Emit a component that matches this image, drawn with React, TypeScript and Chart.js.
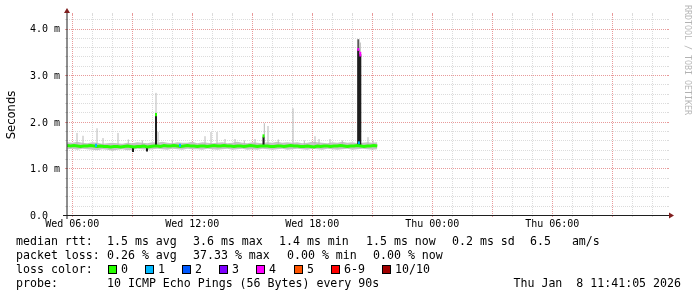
import React, { useEffect, useRef } from "react";
import { Chart, registerables } from "chart.js";
Chart.register(...registerables);

// ---------- data (hours since Wed 00:00, values in ms) ----------
const xTickHours = [6, 12, 18, 24, 30];
const xTickLabels = ["Wed 06:00", "Wed 12:00", "Wed 18:00", "Thu 00:00", "Thu 06:00"];
const yTickValues = [0, 1, 2, 3, 4];
const yTickLabels = ["0.0", "1.0 m", "2.0 m", "3.0 m", "4.0 m"];

const medianStart = 5.75;
const medianStepH = 1 / 6;
const medianValues = [
  1.49, 1.48, 1.49, 1.48, 1.47, 1.48, 1.48, 1.49, 1.48, 1.47,
  1.48, 1.47, 1.47, 1.46, 1.47, 1.47, 1.46, 1.47, 1.48, 1.47,
  1.46, 1.47, 1.47, 1.48, 1.46, 1.47, 1.48, 1.48, 1.47, 1.49,
  1.48, 1.48, 1.49, 1.48, 1.47, 1.48, 1.49, 1.48, 1.48, 1.47,
  1.48, 1.48, 1.47, 1.48, 1.49, 1.48, 1.48, 1.49, 1.48, 1.48,
  1.47, 1.48, 1.48, 1.47, 1.48, 1.49, 1.48, 1.47, 1.48, 1.48,
  1.48, 1.47, 1.47, 1.48, 1.48, 1.47, 1.48, 1.49, 1.48, 1.48,
  1.47, 1.47, 1.48, 1.47, 1.46, 1.48, 1.47, 1.48, 1.48, 1.47,
  1.48, 1.48, 1.49, 1.48, 1.47, 1.48, 1.48, 1.49, 1.48, 1.47,
  1.48, 1.48, 1.49, 1.48,
];

const smokeStart = 5.75;
const smokeStepH = 0.25;
const smokeHi = [
  1.56, 1.55, 1.57, 1.55, 1.54, 1.56, 1.55, 1.53, 1.54, 1.55,
  1.54, 1.53, 1.55, 1.54, 1.56, 1.55, 1.54, 1.56, 1.55, 1.57,
  1.55, 1.54, 1.56, 1.55, 1.55, 1.57, 1.54, 1.56, 1.55, 1.54,
  1.55, 1.56, 1.54, 1.55, 1.57, 1.55, 1.54, 1.56, 1.55, 1.54,
  1.56, 1.55, 1.57, 1.55, 1.56, 1.55, 1.56, 1.54, 1.55, 1.57,
  1.56, 1.55, 1.54, 1.56, 1.55, 1.57, 1.55, 1.56, 1.54, 1.55,
  1.56, 1.55, 1.56,
];
const smokeLo = [
  1.41, 1.42, 1.40, 1.42, 1.41, 1.40, 1.39, 1.41, 1.40, 1.38,
  1.40, 1.41, 1.39, 1.40, 1.42, 1.41, 1.40, 1.41, 1.42, 1.41,
  1.40, 1.42, 1.41, 1.40, 1.42, 1.41, 1.41, 1.40, 1.42, 1.41,
  1.40, 1.41, 1.42, 1.40, 1.41, 1.42, 1.40, 1.41, 1.40, 1.42,
  1.41, 1.40, 1.41, 1.42, 1.40, 1.41, 1.42, 1.41, 1.40, 1.42,
  1.41, 1.40, 1.42, 1.41, 1.40, 1.41, 1.42, 1.40, 1.41, 1.42,
  1.41, 1.40, 1.41,
];

// light smoke spikes (base at the smoke band)
const spikeBase = 1.5;
const graySpikeTimes = [
  6.235, 6.535, 7.235, 7.535, 8.285, 8.8, 9.5, 10.185, 10.285, 11.0,
  12.635, 12.935, 13.235, 13.635, 14.135, 14.6, 15.135, 15.6, 15.785, 16.3,
  17.035, 17.6, 18.135, 18.335, 18.885, 19.5, 20.40, 20.785, 21.035,
];
const graySpikeTops = [
  1.76, 1.70, 1.86, 1.65, 1.76, 1.62, 1.60, 2.62, 1.78, 1.60,
  1.69, 1.78, 1.78, 1.63, 1.63, 1.60, 1.63, 1.97, 1.91, 1.62,
  2.29, 1.60, 1.69, 1.63, 1.63, 1.60, 3.70, 1.67, 1.60,
];
// dense (dark) smoke spike
const darkSmokeTimes = [20.30];
const darkSmokeTops = [3.77];

// dark (black) bars of concentrated pings
const darkBarTimes = [9.035, 9.735, 10.185, 15.56, 20.30, 20.40];
const darkBarLo = [1.35, 1.36, 1.47, 1.47, 1.47, 1.47];
const darkBarHi = [1.46, 1.46, 2.14, 1.68, 3.55, 3.45];

// median marks coloured by packet loss count
const lossMarkTimes = [7.185, 10.185, 11.385, 15.56, 20.30, 20.33, 20.40];
const lossMarkLo = [1.46, 2.12, 1.46, 1.66, 3.52, 1.52, 3.40];
const lossMarkHi = [1.53, 2.19, 1.53, 1.73, 3.58, 1.58, 3.50];
const lossMarkCount = [1, 0, 1, 0, 4, 1, 4];

const lossLegendLabels = ["0", "1", "2", "3", "4", "5", "6-9", "10/10"];
const lossLegendColors = ["#26ff00", "#00b8ff", "#0059ff", "#7e00ff", "#ff00ff", "#ff5500", "#ff0000", "#a10000"];
const lossCountColor: Record<number, string> = { 0: "#26ff00", 1: "#00b8ff", 2: "#0059ff", 3: "#7e00ff", 4: "#ff00ff", 5: "#ff5500" };

const legendRow1 = ["median rtt:", "1.5 ms avg", "3.6 ms max", "1.4 ms min", "1.5 ms now", "0.2 ms sd", "6.5   am/s"];
const legendRow2 = ["packet loss:", "0.26 % avg", "37.33 % max", "0.00 % min", "0.00 % now"];
const legendRow3Title = "loss color:";
const probeTitle = "probe:";
const probeText = "10 ICMP Echo Pings (56 Bytes) every 90s";
const dateText = "Thu Jan  8 11:41:05 2026";
const yAxisTitle = "Seconds";
const watermark = "RRDTOOL / TOBI OETIKER";

// ---------- layout ----------
const X_MIN = 5.735;
const X_MAX = 35.735;
const Y_MAX = 4.29;
const MONO = "'DejaVu Sans Mono', 'Liberation Mono', monospace";
const row1X = [16, 107, 193, 279, 366, 452, 530];
const row2X = [16, 107, 193, 287, 373];
const swatchX = [108, 145, 182, 219, 256, 294, 331, 382];
const MINOR = "#dcdcdc";
const MAJOR = "#e89a9a";

function segs(times: number[], lo: number[] | number, hi: number[]) {
  const pts: { x: number; y: number | null }[] = [];
  times.forEach((t, i) => {
    pts.push({ x: t, y: typeof lo === "number" ? lo : lo[i] });
    pts.push({ x: t, y: hi[i] });
    pts.push({ x: t, y: null });
  });
  return pts;
}

const rrdPlugin = {
  id: "rrd",
  beforeDatasetsDraw(chart: any) {
    const { ctx, chartArea: a, scales } = chart;
    const xs = scales.x, ys = scales.y;
    ctx.save();
    ctx.lineWidth = 1;
    const drawH = (v: number, color: string) => {
      const py = Math.round(ys.getPixelForValue(v)) + 0.5;
      ctx.strokeStyle = color;
      ctx.setLineDash([]);
      ctx.beginPath();
      ctx.moveTo(a.left - 2, py); ctx.lineTo(a.left, py);
      ctx.moveTo(a.right, py); ctx.lineTo(a.right + 2, py);
      ctx.stroke();
      ctx.setLineDash([1, 1]);
      ctx.beginPath();
      ctx.moveTo(a.left, py); ctx.lineTo(a.right, py);
      ctx.stroke();
    };
    const drawV = (h: number, color: string) => {
      const px = Math.round(xs.getPixelForValue(h)) + 0.5;
      ctx.strokeStyle = color;
      ctx.setLineDash([]);
      ctx.beginPath();
      ctx.moveTo(px, a.top - 2); ctx.lineTo(px, a.top);
      ctx.moveTo(px, a.bottom); ctx.lineTo(px, a.bottom + 2);
      ctx.stroke();
      ctx.setLineDash([1, 1]);
      ctx.beginPath();
      ctx.moveTo(px, a.top); ctx.lineTo(px, a.bottom);
      ctx.stroke();
    };
    for (let k = 1; k * 0.2 <= Y_MAX; k++) if (k % 5 !== 0) drawH(k * 0.2, MINOR);
    for (let h = Math.ceil(X_MIN); h <= X_MAX; h++) if (h % 3 !== 0) drawV(h, MINOR);
    for (let k = 5; k * 0.2 <= Y_MAX; k += 5) drawH(k * 0.2, MAJOR);
    for (let h = Math.ceil(X_MIN / 3) * 3; h <= X_MAX; h += 3) drawV(h, MAJOR);
    ctx.restore();
  },
  afterDraw(chart: any) {
    const { ctx, chartArea: a, scales } = chart;
    const xs = scales.x, ys = scales.y;
    ctx.save();
    ctx.setLineDash([]);
    // axes
    ctx.strokeStyle = "#1f1f1f";
    ctx.lineWidth = 1;
    ctx.beginPath();
    ctx.moveTo(a.left - 4, a.bottom + 0.5); ctx.lineTo(a.right + 4, a.bottom + 0.5);
    ctx.stroke();
    ctx.beginPath();
    ctx.moveTo(a.left, a.bottom + 4); ctx.lineTo(a.left, a.top - 4);
    ctx.stroke();
    ctx.fillStyle = "#801f1f";
    ctx.beginPath();
    ctx.moveTo(a.right + 2, a.bottom - 2.5); ctx.lineTo(a.right + 2, a.bottom + 3.5); ctx.lineTo(a.right + 7, a.bottom + 0.5);
    ctx.closePath(); ctx.fill();
    ctx.beginPath();
    ctx.moveTo(a.left - 3, a.top - 2); ctx.lineTo(a.left + 3, a.top - 2); ctx.lineTo(a.left, a.top - 7);
    ctx.closePath(); ctx.fill();

    // tick labels
    ctx.fillStyle = "#000";
    ctx.font = `10px ${MONO}`;
    ctx.textBaseline = "alphabetic";
    ctx.textAlign = "left";
    yTickValues.forEach((v, i) => {
      ctx.fillText(yTickLabels[i], 30, ys.getPixelForValue(v) + 3.8);
    });
    ctx.textAlign = "center";
    xTickHours.forEach((h, i) => {
      ctx.fillText(xTickLabels[i], xs.getPixelForValue(h), 227);
    });

    // y title
    ctx.save();
    ctx.translate(15, (a.top + a.bottom) / 2);
    ctx.rotate(-Math.PI / 2);
    ctx.font = "11.6px 'DejaVu Sans', sans-serif";
    ctx.textAlign = "center";
    ctx.fillText(yAxisTitle, 0, 0);
    ctx.restore();

    // watermark
    ctx.save();
    ctx.translate(685, 5);
    ctx.rotate(Math.PI / 2);
    ctx.font = `8.3px ${MONO}`;
    ctx.fillStyle = "rgba(0,0,0,0.3)";
    ctx.textAlign = "left";
    ctx.textBaseline = "alphabetic";
    ctx.fillText(watermark, 0, 0);
    ctx.restore();

    // legend
    ctx.font = `11.6px ${MONO}`;
    ctx.textAlign = "left";
    ctx.fillStyle = "#000";
    legendRow1.forEach((s, i) => ctx.fillText(s, row1X[i], 245));
    legendRow2.forEach((s, i) => ctx.fillText(s, row2X[i], 259));
    ctx.fillText(legendRow3Title, 16, 273);
    lossLegendLabels.forEach((s, i) => {
      const sx = swatchX[i];
      ctx.fillStyle = "#000";
      ctx.fillRect(sx, 265, 9, 9);
      ctx.fillStyle = lossLegendColors[i];
      ctx.fillRect(sx + 1, 266, 7, 7);
      ctx.fillStyle = "#000";
      ctx.fillText(s, sx + 13, 273);
    });
    ctx.fillText(probeTitle, 16, 287);
    ctx.fillText(probeText, 107, 287);
    ctx.textAlign = "right";
    ctx.fillText(dateText, 681, 287);
    ctx.restore();
  },
};

export default function App() {
  const ref = useRef<HTMLCanvasElement>(null);
  useEffect(() => {
    document.body.style.margin = "0";
    const medianPts = medianValues.map((v, i) => ({ x: medianStart + i * medianStepH, y: v }));
    const hiPts = smokeHi.map((v, i) => ({ x: smokeStart + i * smokeStepH, y: v }));
    const loPts = smokeLo.map((v, i) => ({ x: smokeStart + i * smokeStepH, y: v }));
    const common = { pointRadius: 0, tension: 0, borderCapStyle: "butt" as const, spanGaps: false };
    const chart = new Chart(ref.current!, {
      type: "line",
      data: {
        datasets: [
          {
            ...common,
            data: segs(lossMarkTimes, lossMarkLo, lossMarkHi),
            borderWidth: 2,
            borderColor: "#26ff00",
            segment: {
              borderColor: (c: any) => lossCountColor[lossMarkCount[Math.floor(c.p0DataIndex / 3)]],
            },
          },
          { ...common, data: medianPts, borderWidth: 3, borderColor: "#26ff00" },
          { ...common, data: segs(darkBarTimes, darkBarLo, darkBarHi), borderWidth: 2, borderColor: "#1e1e1e" },
          { ...common, data: segs(darkSmokeTimes, spikeBase, darkSmokeTops), borderWidth: 2, borderColor: "#5a5a5a" },
          { ...common, data: segs(graySpikeTimes, spikeBase, graySpikeTops), borderWidth: 1, borderColor: "#b8b8b8" },
          { ...common, data: hiPts, borderWidth: 0, borderColor: "rgba(0,0,0,0)", backgroundColor: "#c4c4c4", fill: "+1" },
          { ...common, data: loPts, borderWidth: 0, borderColor: "rgba(0,0,0,0)", fill: false },
        ] as any,
      },
      options: {
        animation: false,
        responsive: false,
        devicePixelRatio: 1,
        events: [],
        layout: { padding: { left: 67, right: 30, top: 15, bottom: 82 } },
        scales: {
          x: { type: "linear", min: X_MIN, max: X_MAX, display: false },
          y: { type: "linear", min: 0, max: Y_MAX, display: false },
        },
        plugins: { legend: { display: false }, tooltip: { enabled: false } },
      },
      plugins: [rrdPlugin],
    });
    return () => chart.destroy();
  }, []);
  return (
    <div style={{ position: "absolute", left: 0, top: 0, width: 697, height: 297, background: "#fff" }}>
      <canvas ref={ref} width={697} height={297} style={{ display: "block", width: 697, height: 297 }} />
    </div>
  );
}
